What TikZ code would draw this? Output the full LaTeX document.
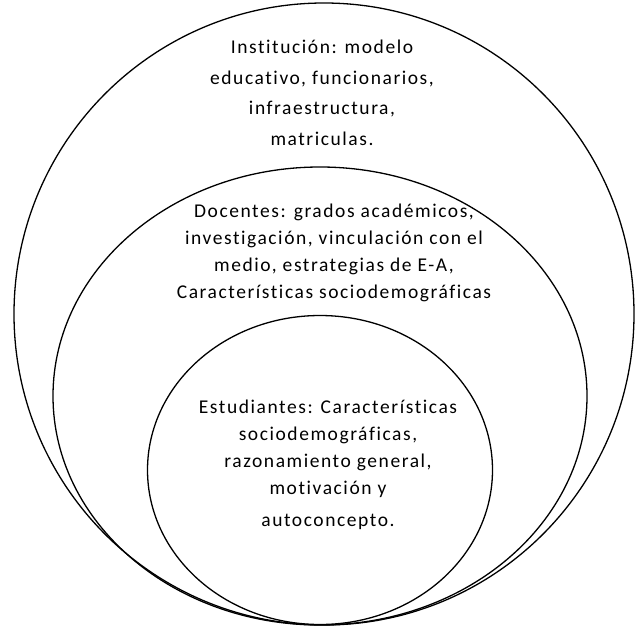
\documentclass[tikz,border=0pt]{standalone}
\usepackage{fontspec}
\setmainfont{Carlito}[Ligatures=NoCommon, LetterSpace=8]
\usetikzlibrary{shapes.geometric,positioning}

\begin{document}
\begin{tikzpicture}[x=1pt,y=-1pt,
    level/.style={ellipse, draw, line width=1.3pt, inner sep=0pt},
    txt/.style={align=center, font=\fontsize{19.5}{27}\selectfont, inner sep=0pt}
]
    \useasboundingbox (0,0) rectangle (637,627);

    % nested levels, all resting on the same bottom point
    \node[level, minimum width=620pt, minimum height=622pt] (inst) at (324,314) {};
    \node[level, minimum width=534pt, minimum height=458pt] (doc) at (320,396) {};
    \node[level, minimum width=345pt, minimum height=309pt] (est) at (320,470) {};

    \node[txt, font=\fontsize{19.5}{30.5}\selectfont] (insttxt) at (322,93) {Institución: modelo\\educativo, funcionarios,\\infraestructura,\\matriculas.};
    \node[txt] (doctxt) at (334,253) {Docentes: grados académicos,\\investigación, vinculación con el\\medio, estrategias de E-A,\\Características sociodemográficas};
    \node[txt] (esttxt) at (328,465) {Estudiantes: Características\\sociodemográficas,\\razonamiento general,\\motivación y\\[5pt]autoconcepto.};
\end{tikzpicture}
\end{document}
